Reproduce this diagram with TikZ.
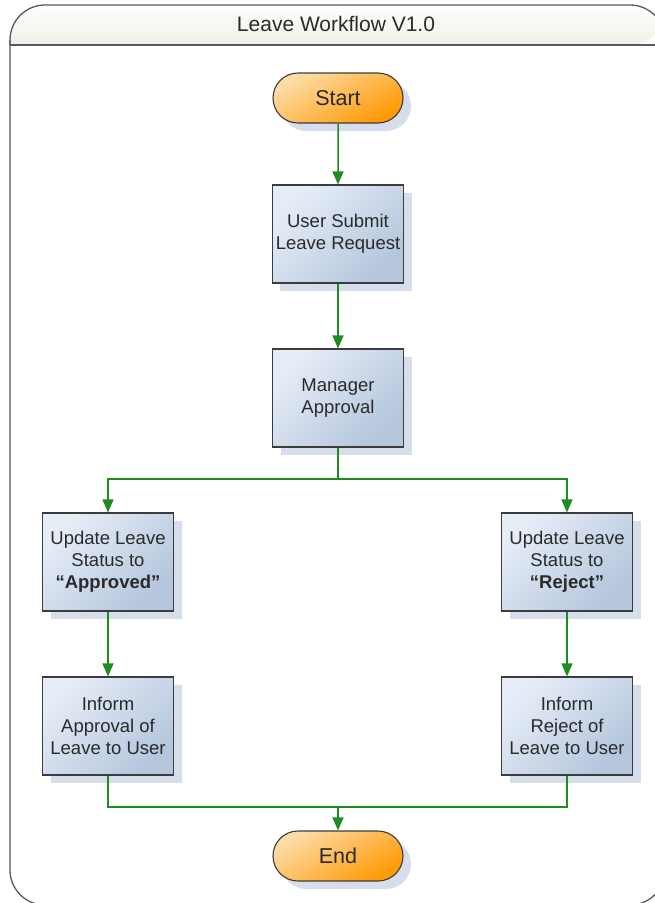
\documentclass[tikz,border=0pt]{standalone}
\usepackage{fontspec}
\setmainfont{Liberation Sans}
\usetikzlibrary{arrows.meta,shapes.misc,shadows}
\definecolor{flowgreen}{HTML}{1E8C1E}
\definecolor{edgegrey}{HTML}{3C3C3C}
\definecolor{textgrey}{HTML}{2A2A2A}
\definecolor{shadowblue}{HTML}{D5DEEA}
\definecolor{boxlight}{HTML}{E6EDF7}
\definecolor{boxdark}{HTML}{B4C5DC}
\definecolor{orangelight}{HTML}{FDDCA8}
\definecolor{orangedark}{HTML}{FF9A05}
\definecolor{bandbottom}{HTML}{EEF1E6}
\tikzset{
  procbox/.style={draw=edgegrey, line width=1.1pt, minimum width=131pt, minimum height=98pt,
    left color=boxlight, right color=boxdark, shading angle=45,
    align=center, font=\fontsize{18.5}{22}\selectfont, text=textgrey,
    drop shadow={shadow xshift=8pt, shadow yshift=-8pt, fill=shadowblue, opacity=1}},
  termbox/.style={draw=edgegrey, line width=1.1pt, rounded rectangle, minimum width=130pt, minimum height=50pt,
    inner sep=0pt, top color=orangelight, bottom color=orangedark, shading angle=30,
    font=\fontsize{21.5}{25}\selectfont, text=textgrey,
    drop shadow={shadow xshift=8pt, shadow yshift=-8pt, fill=shadowblue, opacity=1}},
  flow/.style={draw=flowgreen, line width=1.5pt, -{Triangle[length=13pt,width=11pt]}},
  flowline/.style={draw=flowgreen, line width=1.5pt},
  framestyle/.style={draw=edgegrey!85, line width=1.3pt},
}
\begin{document}
\begin{tikzpicture}[x=1pt,y=-1pt]
\useasboundingbox (0,0) rectangle (655,903);
% frame
\begin{scope}
\clip (0,0) rectangle (655,903);
\shade[top color=white, bottom color=bandbottom, rounded corners=35pt] (10,45) -- (10,5) -- (665,5) -- (665,45) [sharp corners] -- cycle;
\draw[framestyle, rounded corners=35pt] (10,45) -- (10,5) -- (665,5) -- (665,45);
\draw[framestyle, rounded corners=35pt] (10,40) -- (10,905) -- (665,905) -- (665,40);
\draw[framestyle] (10,45) -- (665,45);
\end{scope}
\node[font=\fontsize{21}{24}\selectfont, text=textgrey] (title) at (336,24) {Leave Workflow V1.0};

\node[termbox] (start) at (338,98) {Start};
\node[procbox] (submit) at (338,234) {User Submit\\Leave Request};
\node[procbox] (manager) at (338,398) {Manager\\Approval};
\node[procbox] (approved) at (108,562) {Update Leave\\Status to\\\textbf{“Approved”}};
\node[procbox] (reject) at (567,562) {Update Leave\\Status to\\\textbf{“Reject”}};
\node[procbox] (informA) at (108,726) {Inform\\Approval of\\Leave to User};
\node[procbox] (informR) at (567,726) {Inform\\Reject of\\Leave to User};
\node[termbox] (end) at (338,856) {End};

\coordinate (split) at (338,479);
\coordinate (merge) at (338,807);

\draw[flow] (start) -- (submit);
\draw[flow] (submit) -- (manager);
\draw[flowline] (manager) -- (split);
\draw[flow] (split) -| (approved);
\draw[flow] (split) -| (reject);
\draw[flow] (approved) -- (informA);
\draw[flow] (reject) -- (informR);
\draw[flowline] (informA) |- (merge);
\draw[flowline] (informR) |- (merge);
\draw[flow] (merge) -- (end);
\end{tikzpicture}
\end{document}
